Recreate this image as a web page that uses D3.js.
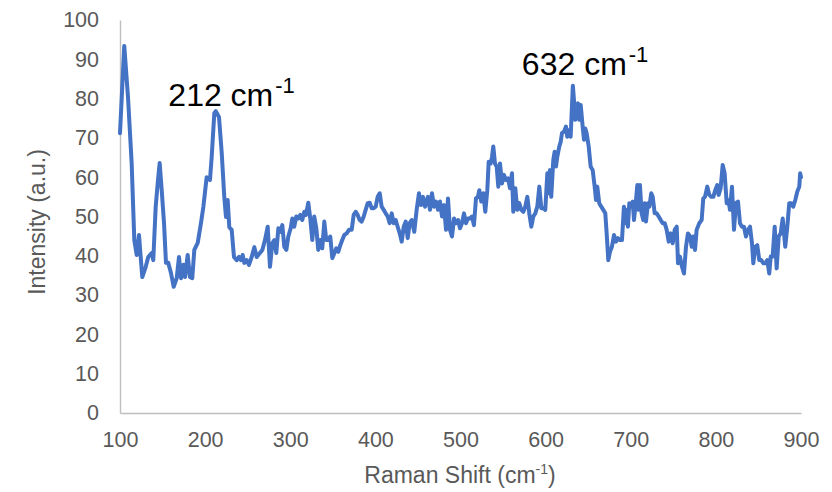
<!DOCTYPE html>
<html>
<head>
<meta charset="utf-8">
<script src="https://cdn.jsdelivr.net/npm/d3@7"></script>
<style>
  html, body { margin: 0; padding: 0; background: #ffffff; }
  svg { display: block; }
</style>
</head>
<body>
<svg id="chart" width="832" height="492"></svg>
<script>
// Raman spectrum: shift (cm^-1) and intensity (a.u.)
const ramanShift = [
  100, 105, 109.4, 113.7, 116.8, 119.6, 122.3, 124.3, 126.2, 130.2, 133.2, 137.2, 139.1, 141.9, 144.3, 146.6,
  149, 151.7, 154, 156.7, 159.9, 163.1, 166.6, 169.3, 171.7, 174.4, 176.4, 179.5, 182.2, 184.9, 187.3, 191.3,
  195.1, 197.9, 201.8, 205.7, 207.7, 210.8, 212.5, 216.3, 219.5, 222.5, 224.5, 226.5, 228.4, 231.2, 233.9, 237.1,
  239.8, 242.1, 244.1, 246, 248.8, 251.5, 254.7, 257.8, 260.6,
  267.2, 270.3, 273.5, 276.2, 278.9, 281.3, 283.6, 286, 288.3, 290.7, 293, 295.4, 297.7, 300.5, 302.4, 304.7,
  307.1, 309.4, 311.8, 314.1, 316.5, 318.5, 321.2, 323.5, 325.9, 328.2, 330.6, 332.9, 335.3, 337.6, 340, 342.3,
  344.7, 347, 349.4, 351.7, 354.1, 356.4, 358.8, 361.1, 363.5, 366.3, 369, 372.2, 374.5, 376.9, 379.2, 381.6,
  383.9, 386.3, 388.6, 391, 393.3, 395.7, 398, 400.4, 402.7, 405.1, 407.4, 409.8, 412.1, 414.5, 416.8, 419.2,
  421.5, 423.9, 426.2, 428.6, 430.9, 433.3, 435.6, 438, 440.3, 442.7, 445.7, 448.5, 451.2, 453.6, 455.9, 458.3,
  461.8, 464.2, 466.5, 468.9, 471.2, 473.6, 475.9, 478.3, 480.6, 483, 485.3, 487.7, 490, 492.4, 494.7, 497.1,
  499.4, 501.7, 504.1, 506.4, 508.8, 511.1, 513.5, 515.8, 518.2, 520.5, 522.1, 524.4, 526.8, 529.1, 531.5, 533.1,
  535.5, 537, 538.5, 540.5, 542.5, 544.4, 546.4, 548.7, 551.1, 553.4, 555.8, 558.1, 560.5, 562, 564.4, 566.7,
  569, 571.4, 573.8, 576.1, 578.5, 580.8, 583.2, 585.5, 587.9, 590.2, 592.6, 594.9, 597.3, 599.6, 602, 603.6,
  605.1, 606.6, 609, 610.6, 612.2, 613.7, 616, 617.7, 619.2, 621.6, 623.9, 625.4, 627.8, 629.4, 632, 633.3,
  634.8, 636.5, 638, 639.5, 641.2, 643.5, 645.1, 646.6, 648.2, 650.6, 652.9, 655.3, 657.6, 659.2, 660.7, 663,
  665.4, 667.7, 670.1, 671.7, 673.6, 675.6, 677.9, 680.3, 682.6, 685, 687.4, 689.7, 692, 693.6, 695.2, 696.7,
  698.3, 700.6, 702.3, 703.8, 706.2, 707.7, 709.3, 710.8, 712.8, 714.7, 716.4, 717.9, 720.2, 721.8, 724.1, 725.8,
  728.1, 730.5, 732.8, 735.2, 737.5, 739.9, 742.2, 744.6, 746.9, 749.3, 751.6, 754, 755.5, 757.8, 760.2, 762.5,
  764.9, 767.2, 769.6, 771.6, 773.5, 775.5, 777.4, 780.5, 783.3, 785.2, 787.2, 789.9, 792.3, 794.6, 797, 799.3,
  801.6, 803.3, 805.6, 808, 810.3, 812.7, 814.6, 816.6, 818.9, 821.3, 823.6, 826, 828.3, 830.7, 833, 835.4,
  837.7, 840.1, 842.4, 844, 846.3, 848.6, 851, 853.3, 855.7, 858, 860.4, 862.7, 864.4, 866.7, 869.1, 871.4,
  873.8, 876.1, 878.5, 881.5, 883.9, 886.2, 888.6, 890.9, 893.3, 895.6, 898, 899, 900
];

const intensity = [
  71.2, 93.4, 80.4, 63.6, 44, 40.2, 45.3, 39.7, 34.6, 37.2, 39.7, 40.7, 38.9, 52.4, 58.5, 63.6,
  56.7, 48.3, 38.2, 38.2, 35.6, 32.1, 34.3, 39.7, 34.3, 37.7, 34.6, 40.2, 34.6, 34.3, 41.5, 43.3,
  48.3, 52.4, 60, 59.3, 65.1, 76.3, 76.8, 75.3, 66.2, 55, 49.9, 54.2, 47.3, 46.6, 39.7, 38.9,
  39.7, 38.9, 40.2, 38.2, 38.9, 37.7, 39.7, 42.2, 39.7,
  41.5, 44, 47.4, 37.2, 43.2, 44, 40.7, 47, 46.1, 47.8, 42.3, 41.5, 44.9, 47, 49.5, 47.4,
  50, 49.5, 50.4, 49.1, 51.2, 50.4, 53.5, 49.5, 44, 50, 47, 41.5, 44, 41.9, 48.7, 44,
  44, 44.9, 39.4, 40.6, 41.9, 41, 42.7, 44, 45.3, 45.7, 46.6, 46.6, 50.4, 51.2, 50.4, 49.1,
  48.7, 50, 51.7, 53.4, 53.5, 52.1, 52.1, 52.5, 55, 55.9, 52.5, 51.7, 50.8, 50, 48.3, 50.8,
  48.3, 49.1, 47.4, 45.7, 43.6, 47.4, 48.7, 44.5, 48.3, 49.1, 46.1, 51.7, 55.9, 52.9, 55, 52.5,
  55, 51.7, 55.9, 52.5, 53.8, 51.7, 53.8, 50, 52.9, 46.6, 54.6, 46.6, 44.9, 49.5, 48.3, 49.1,
  47, 48.3, 50.8, 48.3, 49.5, 49.5, 50, 47.8, 54.6, 55, 56.7, 53.8, 55.9, 51.2, 56.7, 63.9,
  63.5, 65.2, 67.8, 63.5, 62.7, 57.6, 63.5, 58.4, 60.6, 59.3, 59.7, 57.2, 61, 51.2, 57.2, 51.7,
  53.4, 51.7, 51.2, 52.5, 55, 50.8, 47.4, 50, 50.8, 52.5, 57.6, 52.1, 52.1, 51.7, 61, 55.9,
  61.8, 55, 64.4, 66.5, 62.7, 65.2, 67.8, 69, 71.2, 71.6, 72.9, 70.3, 72, 70.3, 83.3, 79.6,
  74.6, 77.9, 78.8, 74.6, 78.4, 72.9, 69.5, 72.4, 71.2, 67.8, 62.7, 61.8, 57.6, 54.2, 57.6, 53.4,
  52.5, 51.7, 50.8, 45.7, 38.9, 41, 42.3, 45.3, 43.6, 44.5, 44, 44, 52.5, 48.3, 51.7, 47.4,
  53.4, 52.5, 53.8, 49.1, 54.2, 58, 51.7, 58, 50.8, 49.1, 53.4, 48.7, 53.4, 52.5, 55.9, 55,
  50.8, 50.8, 50, 49.1, 48.3, 48.3, 46.6, 43.6, 45.7, 43.2, 46.6, 47.4, 38.1, 39.8, 37.2, 35.5,
  42.3, 45.7, 45, 42.3, 44.9, 41.5, 46.6, 48.3, 49.1, 54.6, 55, 57.6, 55.5, 55, 55, 56.7,
  58, 55.5, 57.2, 63.1, 61, 53.4, 54.2, 51.7, 57.6, 46.6, 53.4, 53.8, 48.3, 47.4, 47.4, 44.9,
  46.6, 47.4, 43.2, 38.1, 42.3, 42.7, 38.9, 38.9, 38.1, 38.1, 38.9, 35.5, 39.8, 39.8, 47.4, 36.8,
  44.9, 45.7, 49.5, 42.3, 47.4, 53.4, 53.4, 52.5, 54.2, 56.3, 57.6, 61, 60
];

const xTicks = [100, 200, 300, 400, 500, 600, 700, 800, 900];
const yTicks = [0, 10, 20, 30, 40, 50, 60, 70, 80, 90, 100];

// Labelled peaks
const peakShifts = [212, 632];
const peakLabels = ["212 cm", "632 cm"];

const xTitle = "Raman Shift (cm";
const yTitle = "Intensity (a.u.)";

const svg = d3.select("#chart");
const margin = { left: 120, right: 31, top: 20, bottom: 79 };
const W = 832, H = 492;

const x = d3.scaleLinear().domain([100, 900]).range([margin.left, W - margin.right]);
const y = d3.scaleLinear().domain([0, 100]).range([H - margin.bottom, margin.top]);

const axisColor = "#BFBFBF";
const textColor = "#595959";
const font = "'Liberation Sans', Arial, sans-serif";
const tickSize = 21.5;
const titleSize = 23;

// X axis
const gx = svg.append("g")
  .attr("transform", `translate(0,${y(0)})`)
  .call(d3.axisBottom(x).tickValues(xTicks).tickSize(0).tickSizeOuter(0).tickPadding(19));
gx.select(".domain").attr("stroke", axisColor).attr("stroke-width", 1.4);
gx.selectAll("text").attr("fill", textColor).attr("font-size", tickSize).attr("font-family", font);

// Y axis
const gy = svg.append("g")
  .attr("transform", `translate(${x(100)},0)`)
  .call(d3.axisLeft(y).tickValues(yTicks).tickSize(0).tickSizeOuter(0).tickPadding(21));
gy.select(".domain").attr("stroke", axisColor).attr("stroke-width", 1.4);
gy.selectAll("text").attr("fill", textColor).attr("font-size", tickSize).attr("font-family", font);

// Spectrum line
const data = ramanShift.map((s, i) => [s, intensity[i]]);
svg.append("path")
  .datum(data)
  .attr("fill", "none")
  .attr("stroke", "#4472C4")
  .attr("stroke-width", 4)
  .attr("stroke-linejoin", "round")
  .attr("stroke-linecap", "round")
  .attr("d", d3.line().x(d => x(d[0])).y(d => y(d[1])));

// Axis titles
const xt = svg.append("text")
  .attr("x", 460).attr("y", 483)
  .attr("text-anchor", "middle")
  .attr("fill", textColor).attr("font-size", titleSize).attr("font-family", font)
  .text(xTitle);
xt.append("tspan").attr("font-size", 14).attr("dy", -9).text("-1");
xt.append("tspan").attr("dy", 9).text(")");

svg.append("text")
  .attr("transform", `translate(45,${222}) rotate(-90)`)
  .attr("text-anchor", "middle")
  .attr("fill", textColor).attr("font-size", titleSize).attr("font-family", font)
  .text(yTitle);

// Peak annotations
const labelOffsets = [[-47, 106], [-51, 75]];
peakShifts.forEach((p, i) => {
  const t = svg.append("text")
    .attr("x", x(p) + labelOffsets[i][0])
    .attr("y", labelOffsets[i][1])
    .attr("fill", "#000000").attr("font-size", 32).attr("font-family", font)
    .text(peakLabels[i]);
  t.append("tspan").attr("font-size", 22).attr("dx", 2).attr("dy", -13).text("-1");
});
</script>
</body>
</html>
